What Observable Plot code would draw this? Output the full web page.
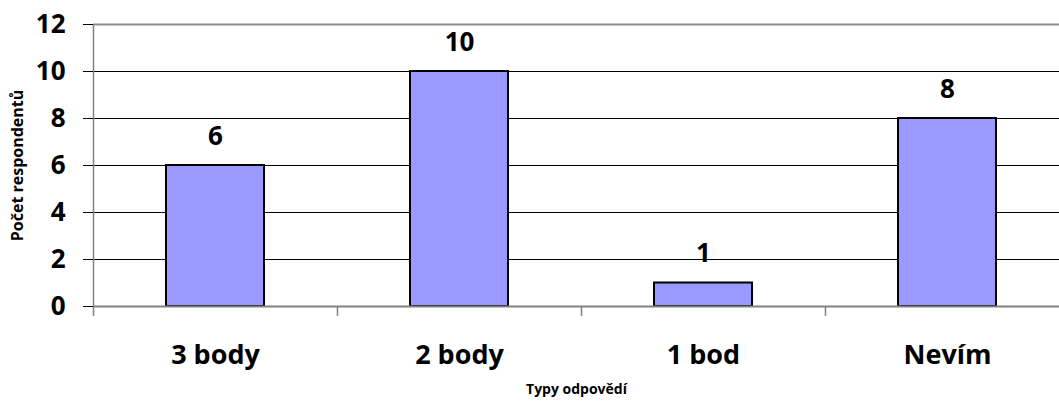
<!DOCTYPE html>
<html><head><meta charset="utf-8">
<script src="https://cdn.jsdelivr.net/npm/d3@7"></script>
<script src="https://cdn.jsdelivr.net/npm/@observablehq/plot@0.6"></script>
<style>body{margin:0;background:#fff}svg{display:block}</style>
</head><body><div id="chart"></div>
<script>
const categories = ["3 body", "2 body", "1 bod", "Nevím"];
const values = [6, 10, 1, 8];
const yTicks = [0, 2, 4, 6, 8, 10, 12];
const data = categories.map((c, i) => ({cat: c, v: values[i]}));
const font = "'Open Sans', sans-serif";
const plot = Plot.plot({
  width: 1059, height: 403,
  marginLeft: 93, marginRight: 0, marginTop: 24, marginBottom: 97,
  style: {fontFamily: font, background: "#fff"},
  x: {domain: categories, range: [93, 1069], padding: 0, label: null},
  y: {domain: [0, 12], range: [306, 24], label: null},
  marks: [
    Plot.ruleY(yTicks.filter(d => d > 0 && d < 12), {stroke: "#000", strokeWidth: 1}),
    Plot.ruleY([12], {stroke: "#8c8c8c", strokeWidth: 2}),
    Plot.barY(data, {x: "cat", y: "v", fill: "#9999ff", stroke: "#000", strokeWidth: 2, insetLeft: 73, insetRight: 73}),
    Plot.ruleY([0], {stroke: "#808080", strokeWidth: 2}),
    Plot.ruleX(categories.slice(0, 1), {x: d => d, dx: -122, y1: -0.43, y2: 12, stroke: "#808080", strokeWidth: 1.5}),
    Plot.ruleX(categories.slice(1), {x: d => d, dx: -122, y1: -0.43, y2: 0, stroke: "#808080", strokeWidth: 1.5}),
    Plot.axisY(yTicks, {tickSize: 10, tickPadding: 18, fontSize: 26, fontWeight: "bold", fill: "#000", stroke: "#000", label: null}),
    Plot.axisX({tickSize: 0, tickPadding: 38, fontSize: 27, fontWeight: "bold", fill: "#000", label: null}),
    Plot.text(data, {x: "cat", y: "v", text: d => String(d.v), dy: -29, fontSize: 26, fontWeight: "bold", fill: "#000"}),
    Plot.text(["Typy odpovědí"], {frameAnchor: "bottom", dy: 87, fontSize: 14, fontWeight: "bold", fill: "#000"}),
    Plot.text(["Počet respondentů"], {frameAnchor: "left", textAnchor: "middle", dx: -76, rotate: -90, fontSize: 16, fontWeight: "bold", fill: "#000"})
  ]
});
document.getElementById("chart").append(plot);
</script>
</body></html>
